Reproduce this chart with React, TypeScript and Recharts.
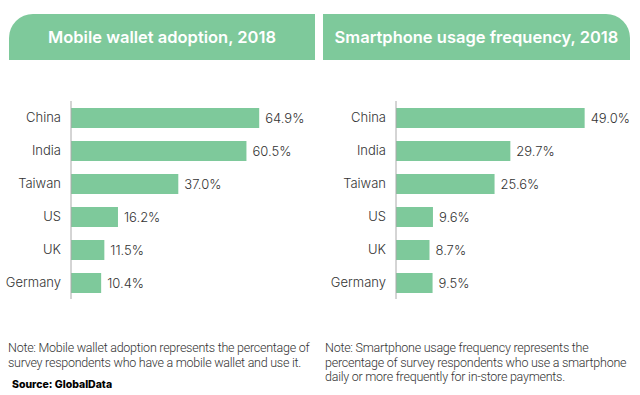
import React from "react";
import { BarChart, Bar, XAxis, YAxis, LabelList } from "recharts";

const categories = ["China", "India", "Taiwan", "US", "UK", "Germany"];
const walletAdoption = [64.9, 60.5, 37.0, 16.2, 11.5, 10.4];
const smartphoneUsage = [49.0, 29.7, 25.6, 9.6, 8.7, 9.5];

const leftTitle = "Mobile wallet adoption, 2018";
const rightTitle = "Smartphone usage frequency, 2018";
const leftNoteLines = [
  "Note: Mobile wallet adoption represents the percentage of",
  "survey respondents who have a mobile wallet and use it.",
];
const rightNoteLines = [
  "Note: Smartphone usage frequency represents the",
  "percentage of survey respondents who use a smartphone",
  "daily or more frequently for in-store payments.",
];
const source = "Source: GlobalData";

const GREEN = "#7ec99b";
const FONT = "Inter, 'Noto Sans', sans-serif";
const NOTE_FONT = "Roboto, 'Liberation Sans', sans-serif";

const leftData = categories.map((c, i) => ({ name: c, value: walletAdoption[i] }));
const rightData = categories.map((c, i) => ({ name: c, value: smartphoneUsage[i] }));

function Panel({ data, max, axisW, right }: { data: any[]; max: number; axisW: number; right: number }) {
  return (
    <BarChart
      width={320}
      height={220}
      data={data}
      layout="vertical"
      margin={{ top: 11, right, bottom: 11, left: 0 }}
      barCategoryGap={13}
    >
      <XAxis type="number" domain={[0, max]} hide />
      <YAxis
        type="category"
        dataKey="name"
        width={axisW}
        axisLine={{ stroke: "#aaaaaa", strokeWidth: 1 }}
        tickLine={false}
        tickSize={0}
        tickMargin={10}
        tick={{ fill: "#333333", fontSize: 13, fontFamily: FONT, fontWeight: 300 }}
      />
      <Bar dataKey="value" fill={GREEN} isAnimationActive={false} barSize={20}>
        <LabelList
          dataKey="value"
          position="right"
          offset={6}
          formatter={(v: any) => `${Number(v).toFixed(1)}%`}
          style={{ fill: "#333333", fontSize: 13, fontFamily: FONT, fontWeight: 300 }}
        />
      </Bar>
    </BarChart>
  );
}

export default function App() {
  const headerBase: React.CSSProperties = {
    position: "absolute",
    top: 14,
    height: 46,
    background: GREEN,
    color: "#ffffff",
    fontFamily: FONT,
    fontWeight: 600,
    fontSize: 16.5,
    display: "flex",
    alignItems: "center",
    justifyContent: "center",
    whiteSpace: "nowrap",
  };
  const noteStyle: React.CSSProperties = {
    position: "absolute",
    fontFamily: NOTE_FONT,
    fontWeight: 300,
    fontSize: 12.5,
    lineHeight: "14.5px",
    color: "#333333",
    whiteSpace: "nowrap",
    letterSpacing: -0.25,
  };
  return (
    <div style={{ position: "absolute", left: 0, top: 0, width: 640, height: 395, background: "#ffffff", overflow: "hidden" }}>
      <div style={{ ...headerBase, left: 9, width: 306, borderTopLeftRadius: 24 }}>{leftTitle}</div>
      <div style={{ ...headerBase, left: 323, width: 307, borderTopRightRadius: 24 }}>{rightTitle}</div>
      <div style={{ position: "absolute", left: 0, top: 90 }}>
        <Panel data={leftData} max={80} axisW={71} right={17} />
      </div>
      <div style={{ position: "absolute", left: 320, top: 90 }}>
        <Panel data={rightData} max={60} axisW={76} right={13} />
      </div>
      <div style={{ ...noteStyle, left: 8, top: 341 }}>
        {leftNoteLines.map((l) => (
          <div key={l}>{l}</div>
        ))}
      </div>
      <div style={{ ...noteStyle, left: 325, top: 341 }}>
        {rightNoteLines.map((l) => (
          <div key={l}>{l}</div>
        ))}
      </div>
      <div style={{ position: "absolute", left: 12, top: 378, fontFamily: FONT, fontWeight: 800, fontSize: 10.5, color: "#000" }}>{source}</div>
    </div>
  );
}
